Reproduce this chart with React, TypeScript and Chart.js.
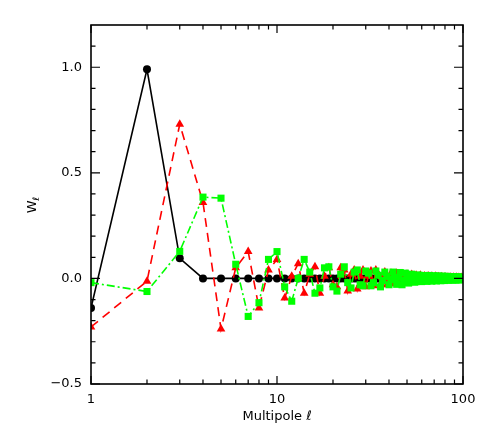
import React, { useEffect, useRef } from "react";
import { Chart, registerables } from "chart.js";

Chart.register(...registerables);

const multipoles = [
  1, 2, 3, 4, 5, 6, 7, 8, 9, 10,
  11, 12, 13, 14, 15, 16, 17, 18, 19, 20,
  21, 22, 23, 24, 25, 26, 27, 28, 29, 30,
  31, 32, 33, 34, 35, 36, 37, 38, 39, 40,
  41, 42, 43, 44, 45, 46, 47, 48, 49, 50,
  51, 52, 53, 54, 55, 56, 57, 58, 59, 60,
  61, 62, 63, 64, 65, 66, 67, 68, 69, 70,
  71, 72, 73, 74, 75, 76, 77, 78, 79, 80,
  81, 82, 83, 84, 85, 86, 87, 88, 89, 90,
  91, 92, 93, 94, 95, 96, 97, 98, 99, 100,
];

const blackW = [
  -0.14, 0.99, 0.095, 0.0, 0.0, 0.0, 0.0, 0.0, 0.0, 0.0,
  0.0, 0.0, 0.0, 0.0, 0.0, 0.0, 0.0, 0.0, 0.0, 0.0,
  0.0, 0.0, 0.0, 0.0, 0.0, 0.0, 0.0, 0.0, 0.0, 0.0,
  0.0, 0.0, 0.0, 0.0, 0.0, 0.0, 0.0, 0.0, 0.0, 0.0,
  0.0, 0.0, 0.0, 0.0, 0.0, 0.0, 0.0, 0.0, 0.0, 0.0,
  0.0, 0.0, 0.0, 0.0, 0.0, 0.0, 0.0, 0.0, 0.0, 0.0,
  0.0, 0.0, 0.0, 0.0, 0.0, 0.0, 0.0, 0.0, 0.0, 0.0,
  0.0, 0.0, 0.0, 0.0, 0.0, 0.0, 0.0, 0.0, 0.0, 0.0,
  0.0, 0.0, 0.0, 0.0, 0.0, 0.0, 0.0, 0.0, 0.0, 0.0,
  0.0, 0.0, 0.0, 0.0, 0.0, 0.0, 0.0, 0.0, 0.0, 0.0,
];

const redW = [
  -0.23, -0.013, 0.73, 0.36, -0.24, 0.05, 0.127, -0.14, 0.04, 0.09,
  -0.093, 0.01, 0.07, -0.07, 0.02, 0.055, -0.07, 0.01, 0.05, -0.03,
  -0.04, 0.05, 0.04, -0.06, 0.02, 0.04, -0.05, 0.01, 0.04, -0.04,
  0.01, 0.035, -0.035, 0.04, 0.02, -0.03, 0.01, 0.03, -0.03, 0.0,
  0.025, -0.025, 0.005, 0.025, -0.025, 0.0, 0.02, -0.02, 0.005, 0.02,
  -0.02, 0.0, 0.018, -0.018, 0.005, 0.015, -0.015, 0.0, 0.015, -0.012,
  0.003, 0.012, -0.012, 0.0, 0.012, -0.01, 0.002, 0.01, -0.01, 0.0,
  0.01, -0.008, 0.002, 0.008, -0.008, 0.0, 0.008, -0.007, 0.002, 0.007,
  -0.006, 0.0, 0.006, -0.006, 0.002, 0.006, -0.005, 0.0, 0.005, -0.005,
  0.001, 0.005, -0.004, 0.0, 0.004, -0.004, 0.001, 0.004, -0.003, 0.0,
];

const greenW = [
  -0.02, -0.062, 0.128, 0.385, 0.38, 0.067, -0.18, -0.115, 0.09, 0.127,
  -0.04, -0.108, 0.0, 0.09, 0.03, -0.07, -0.045, 0.05, 0.055, -0.04,
  -0.06, 0.02, 0.055, -0.02, -0.045, 0.03, 0.04, -0.03, -0.035, 0.035,
  0.025, -0.035, -0.02, 0.035, 0.015, -0.04, -0.01, 0.03, 0.01, -0.03,
  -0.005, 0.03, 0.0, -0.028, 0.005, 0.028, -0.03, -0.01, 0.025, 0.012,
  -0.022, -0.012, 0.02, 0.015, -0.018, -0.015, 0.016, 0.015, -0.014, -0.015,
  0.012, 0.014, -0.01, -0.014, 0.008, 0.014, -0.006, -0.013, 0.005, 0.013,
  -0.004, -0.012, 0.003, 0.012, -0.002, -0.011, 0.002, 0.011, -0.003, -0.01,
  0.004, 0.01, -0.005, -0.009, 0.006, 0.009, -0.006, -0.008, 0.007, 0.008,
  -0.007, -0.007, 0.007, 0.007, -0.007, -0.006, 0.006, 0.006, -0.006, -0.005,
];

const xMajorTicks = [1, 10, 100];
const xMinorTicks = [2, 3, 4, 5, 6, 7, 8, 9, 20, 30, 40, 50, 60, 70, 80, 90];
const yMajorTicks = [-0.5, 0.0, 0.5, 1.0];
const yMinorTicks = [-0.4, -0.3, -0.2, -0.1, 0.1, 0.2, 0.3, 0.4, 0.6, 0.7, 0.8, 0.9, 1.1];

const FONT = "'DejaVu Sans', 'Liberation Sans', sans-serif";

const framePlugin = {
  id: "idlFrame",
  afterDraw(chart: any) {
    const { ctx, chartArea } = chart;
    const { left, right, top, bottom } = chartArea;
    const xs = chart.scales.x;
    const ys = chart.scales.y;
    ctx.save();
    ctx.strokeStyle = "#000";
    ctx.lineWidth = 1.6;
    ctx.strokeRect(left, top, right - left, bottom - top);
    ctx.lineWidth = 1.2;
    ctx.beginPath();
    const drawX = (v: number, len: number) => {
      const px = xs.getPixelForValue(v);
      ctx.moveTo(px, bottom);
      ctx.lineTo(px, bottom - len);
      ctx.moveTo(px, top);
      ctx.lineTo(px, top + len);
    };
    const drawY = (v: number, len: number) => {
      const py = ys.getPixelForValue(v);
      ctx.moveTo(left, py);
      ctx.lineTo(left + len, py);
      ctx.moveTo(right, py);
      ctx.lineTo(right - len, py);
    };
    xMajorTicks.forEach((v) => drawX(v, 8));
    xMinorTicks.forEach((v) => drawX(v, 4.5));
    yMajorTicks.forEach((v) => drawY(v, 9));
    yMinorTicks.forEach((v) => drawY(v, 4.5));
    ctx.stroke();

    // axis titles
    ctx.fillStyle = "#000";
    ctx.font = `13px ${FONT}`;
    ctx.textAlign = "center";
    ctx.textBaseline = "middle";
    ctx.fillText("Multipole \u2113", (left + right) / 2, 417);

    ctx.translate(31, 205);
    ctx.rotate(-Math.PI / 2);
    ctx.textAlign = "left";
    ctx.textBaseline = "alphabetic";
    ctx.font = `13px ${FONT}`;
    const wW = ctx.measureText("W").width;
    ctx.font = `9px ${FONT}`;
    const lW = ctx.measureText("\u2113").width;
    const total = wW + lW;
    ctx.font = `13px ${FONT}`;
    ctx.fillText("W", -total / 2, 5);
    ctx.font = `9px ${FONT}`;
    ctx.fillText("\u2113", -total / 2 + wW, 8);
    ctx.restore();
  },
};

export default function App() {
  const canvasRef = useRef<HTMLCanvasElement | null>(null);

  useEffect(() => {
    if (!canvasRef.current) return;
    const toPoints = (vals: number[]) => multipoles.map((l, i) => ({ x: l, y: vals[i] }));
    const chart = new Chart(canvasRef.current, {
      type: "line",
      data: {
        datasets: [
          {
            label: "green",
            data: toPoints(greenW),
            borderColor: "#00ff00",
            backgroundColor: "#00ff00",
            borderWidth: 1.6,
            borderDash: [8, 3, 2, 3],
            pointStyle: "rect",
            pointRadius: 5,
            pointBorderWidth: 0,
            clip: 0,
            order: 0,
          },
          {
            label: "red",
            data: toPoints(redW),
            borderColor: "#ff0000",
            backgroundColor: "#ff0000",
            borderWidth: 1.6,
            borderDash: [9, 6],
            pointStyle: "triangle",
            pointRadius: 5,
            pointBorderWidth: 0,
            clip: 0,
            order: 1,
          },
          {
            label: "black",
            data: toPoints(blackW),
            borderColor: "#000000",
            backgroundColor: "#000000",
            borderWidth: 1.6,
            pointStyle: "circle",
            pointRadius: 4,
            pointBorderWidth: 0,
            clip: 0,
            order: 2,
          },
        ],
      },
      options: {
        animation: false,
        responsive: true,
        maintainAspectRatio: false,
        layout: { padding: { top: 25, right: 28, left: 0, bottom: 0 } },
        plugins: {
          legend: { display: false },
          tooltip: { enabled: false },
        },
        elements: { line: { tension: 0 } },
        scales: {
          x: {
            type: "logarithmic",
            min: 1,
            max: 100,
            grid: { display: false, drawTicks: false },
            border: { display: false },
            afterFit: (scale: any) => {
              scale.height = 52;
            },
            afterBuildTicks: (scale: any) => {
              scale.ticks = xMajorTicks.map((v) => ({ value: v }));
            },
            ticks: {
              padding: 8,
              maxRotation: 0,
              autoSkip: false,
              color: "#000",
              font: { family: FONT, size: 13 },
              callback: (v: any) => String(v),
            },
          },
          y: {
            type: "linear",
            min: -0.5,
            max: 1.2,
            grid: { display: false, drawTicks: false },
            border: { display: false },
            afterFit: (scale: any) => {
              scale.width = 91;
            },
            afterBuildTicks: (scale: any) => {
              scale.ticks = yMajorTicks.map((v) => ({ value: v }));
            },
            ticks: {
              padding: 9,
              color: "#000",
              font: { family: FONT, size: 13 },
              callback: (v: any) => {
                const n = Number(v);
                const s = Math.abs(n).toFixed(1);
                return n < 0 ? "\u2212" + s : s;
              },
            },
          },
        },
      },
      plugins: [framePlugin],
    });
    return () => chart.destroy();
  }, []);

  return (
    <div style={{ position: "fixed", left: 0, top: 0, width: 491, height: 436, background: "#fff" }}>
      <canvas ref={canvasRef} />
    </div>
  );
}
